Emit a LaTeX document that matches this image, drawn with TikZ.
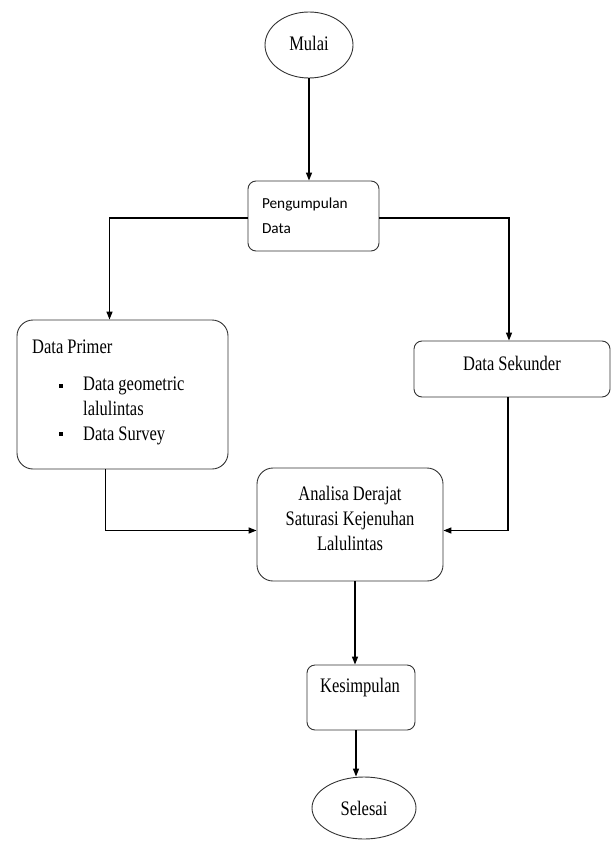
\documentclass[tikz,border=0pt]{standalone}
\usepackage{fontspec}
\setmainfont{Liberation Serif}
\newfontfamily\calib{Carlito}
\usepackage{graphicx}
\usetikzlibrary{shapes.geometric,arrows.meta}
\newcommand\stx[1]{\scalebox{1}[1.25]{#1}}
\begin{document}
\begin{tikzpicture}[x=1pt,y=-1pt,
  box/.style={draw=black!80,line width=0.9pt,rounded corners=#1,inner sep=0pt},
  box/.default=8pt,
  oval/.style={draw=black!80,line width=0.9pt,ellipse,inner sep=0pt},
  txt/.style={font=\fontsize{16.5}{20}\selectfont,inner sep=0pt},
  arr/.style={line width=1.3pt,-{Triangle[length=8pt,width=6pt]}},
  bul/.style={fill=black,minimum size=4.5pt,inner sep=0pt}]
\useasboundingbox (0,0) rectangle (611,842);
% nodes
\node[oval,minimum width=88pt,minimum height=66pt,txt] (mulai) at (309,45) {\raisebox{3pt}{\stx{Mulai}}};
\node[box,text width=103pt,inner xsep=14pt,minimum height=70pt,align=left,
      font=\calib\fontsize{15.3}{25}\selectfont] (peng) at (313.5,216) {Pengumpulan\\Data};
\node[box=16pt,minimum width=211pt,minimum height=149pt] (primer) at (122.5,394.5) {};
\node[txt,anchor=west] (primtitle) at (32,347) {\stx{Data Primer}};
\node[bul] (b1) at (61,386) {};
\node[bul] (b2) at (61,434) {};
\node[txt,anchor=west] (primlist) at (83,410) {\stx{\begin{tabular}{@{}l@{}}Data geometric\\lalulintas\\Data Survey\end{tabular}}};
\node[box,minimum width=196pt,minimum height=56pt] (sek) at (512,369) {};
\node[txt] (sektxt) at (512,363) {\stx{Data Sekunder}};
\node[box=16pt,minimum width=186pt,minimum height=113pt] (ana) at (350,524.5) {};
\node[txt] (anatxt) at (350,520) {\stx{\begin{tabular}{@{}c@{}}Analisa Derajat\\Saturasi Kejenuhan\\Lalulintas\end{tabular}}};
\node[box,minimum width=108pt,minimum height=65pt] (kes) at (361,697.5) {};
\node[txt] (kestxt) at (360,688) {\stx{Kesimpulan}};
\node[oval,minimum width=104pt,minimum height=62pt,txt] (sel) at (364,808) {\stx{Selesai}};
% connectors
\draw[arr] (mulai.south) -- (mulai.south |- peng.north);
\draw[arr] ([yshift=-2pt]peng.west) -| ([xshift=-13pt]primer.north);
\draw[arr] ([yshift=-2pt]peng.east) -| ([xshift=-3pt]sek.north);
\draw[arr] ([xshift=-17pt]primer.south) |- ([yshift=-6pt]ana.west);
\draw[arr] ([xshift=-4pt]sek.south) |- ([yshift=-6pt]ana.east);
\draw[arr] ([xshift=5pt]ana.south) -- ([xshift=5pt]ana.south |- kes.north);
\draw[arr] ([xshift=-5pt]kes.south) -- ([xshift=-5pt]kes.south |- sel.north);
\end{tikzpicture}
\end{document}
